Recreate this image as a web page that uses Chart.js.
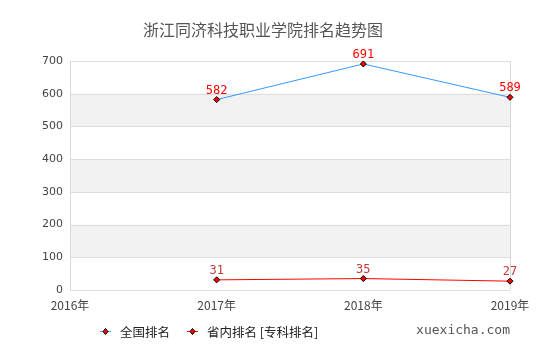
<!DOCTYPE html>
<html><head><meta charset="utf-8">
<script src="https://cdn.jsdelivr.net/npm/chart.js@4/dist/chart.umd.min.js"></script>
<style>
html,body{margin:0;padding:0;background:#fff;}
#wrap{position:relative;width:540px;height:360px;}
</style>
</head><body>
<div id="wrap"><canvas id="c" width="540" height="360"></canvas></div>
<script>
const chartTitle = '浙江同济科技职业学院排名趋势图';
const years = ['2016年', '2017年', '2018年', '2019年'];
const nationalRank = [null, 582, 691, 589];
const provinceRank = [null, 31, 35, 27];
const seriesNames = ['全国排名', '省内排名 [专科排名]'];
const yTicks = [0, 100, 200, 300, 400, 500, 600, 700];
const watermark = 'xuexicha.com';

const FONT = '"DejaVu Sans", sans-serif';
const CJK = '"Noto Sans CJK SC", "DejaVu Sans", sans-serif';

const decor = {
  id: 'decor',
  beforeDatasetsDraw(chart) {
    const {ctx, chartArea: a, scales: {y}} = chart;
    ctx.save();
    ctx.fillStyle = '#f2f2f2';
    for (let i = 1; i < yTicks.length - 1; i += 2) {
      const top = y.getPixelForValue(yTicks[i + 1]);
      const bot = y.getPixelForValue(yTicks[i]);
      ctx.fillRect(a.left, top, a.right - a.left, bot - top);
    }
    ctx.strokeStyle = '#dddddd';
    ctx.lineWidth = 1;
    for (const v of yTicks) {
      const py = Math.round(y.getPixelForValue(v)) + 0.5;
      ctx.beginPath(); ctx.moveTo(a.left, py); ctx.lineTo(a.right, py); ctx.stroke();
    }
    ctx.strokeStyle = '#d9d9d9';
    ctx.beginPath();
    ctx.moveTo(Math.round(a.left) + 0.5, a.top); ctx.lineTo(Math.round(a.left) + 0.5, a.bottom);
    ctx.moveTo(Math.round(a.right) + 0.5, a.top); ctx.lineTo(Math.round(a.right) + 0.5, a.bottom);
    ctx.stroke();
    ctx.restore();
  },
  afterDatasetsDraw(chart) {
    const {ctx} = chart;
    ctx.save();
    ctx.font = '12px "DejaVu Sans Mono", monospace';
    ctx.textAlign = 'center';
    ctx.textBaseline = 'alphabetic';
    const colors = ['#ff0000', '#c0393b'];
    chart.data.datasets.forEach((ds, di) => {
      const meta = chart.getDatasetMeta(di);
      meta.data.forEach((pt, i) => {
        const v = ds.data[i];
        if (v == null) return;
        ctx.fillStyle = colors[di];
        ctx.fillText(String(v), pt.x, pt.y - 6);
      });
    });
    // title
    ctx.fillStyle = '#555555';
    ctx.font = '16px ' + CJK;
    ctx.textAlign = 'center';
    ctx.textBaseline = 'middle';
    ctx.fillText(chartTitle, 263, 30);
    // legend
    const lineCols = ['#3399ff', '#ff0000'];
    const lx = [100, 187];
    ctx.font = '12.5px ' + CJK;
    ctx.textAlign = 'left';
    seriesNames.forEach((n, i) => {
      const x0 = lx[i], yy = 331;
      ctx.strokeStyle = lineCols[i]; ctx.lineWidth = 1;
      ctx.beginPath(); ctx.moveTo(x0, yy + 0.5); ctx.lineTo(x0 + 11, yy + 0.5); ctx.stroke();
      ctx.fillStyle = '#ff0000'; ctx.strokeStyle = '#000';
      ctx.beginPath(); ctx.moveTo(x0 + 5.5, yy - 2.5); ctx.lineTo(x0 + 8, yy + 0.5); ctx.lineTo(x0 + 5.5, yy + 3.5); ctx.lineTo(x0 + 3, yy + 0.5); ctx.closePath();
      ctx.fill(); ctx.stroke();
      ctx.fillStyle = '#222';
      ctx.fillText(n, x0 + 20, yy + 1);
    });
    ctx.fillStyle = '#555';
    ctx.font = '13px "DejaVu Sans Mono", monospace';
    ctx.textAlign = 'right';
    ctx.fillText(watermark, 510, 331);
    ctx.restore();
  }
};

new Chart(document.getElementById('c'), {
  type: 'line',
  data: {
    labels: years,
    datasets: [
      { label: seriesNames[0], data: nationalRank, borderColor: '#3399ff', borderWidth: 1,
        pointStyle: 'rectRot', pointRadius: 3, pointBackgroundColor: '#ff0000', pointBorderColor: '#000', pointBorderWidth: 1, spanGaps: false, tension: 0 },
      { label: seriesNames[1], data: provinceRank, borderColor: '#ff0000', borderWidth: 1,
        pointStyle: 'rectRot', pointRadius: 3, pointBackgroundColor: '#ff0000', pointBorderColor: '#000', pointBorderWidth: 1, spanGaps: false, tension: 0 }
    ]
  },
  options: {
    responsive: false,
    animation: false,
    layout: { padding: { top: 61, right: 30, left: 0, bottom: 0 } },
    plugins: { legend: { display: false }, title: { display: false }, tooltip: { enabled: false } },
    scales: {
      x: {
        grid: { display: false, drawTicks: false },
        border: { display: false },
        offset: false,
        ticks: { color: '#444', font: { family: CJK, size: 12 }, padding: 8, maxRotation: 0, autoSkip: false },
        afterFit(s) { s.height = 70; }
      },
      y: {
        min: 0, max: 700,
        grid: { display: false, drawTicks: false },
        border: { display: false },
        ticks: { stepSize: 100, color: '#444', font: { family: FONT, size: 11 }, padding: 7 },
        afterFit(s) { s.width = 70; }
      }
    }
  },
  plugins: [decor]
});
</script>
</body></html>
